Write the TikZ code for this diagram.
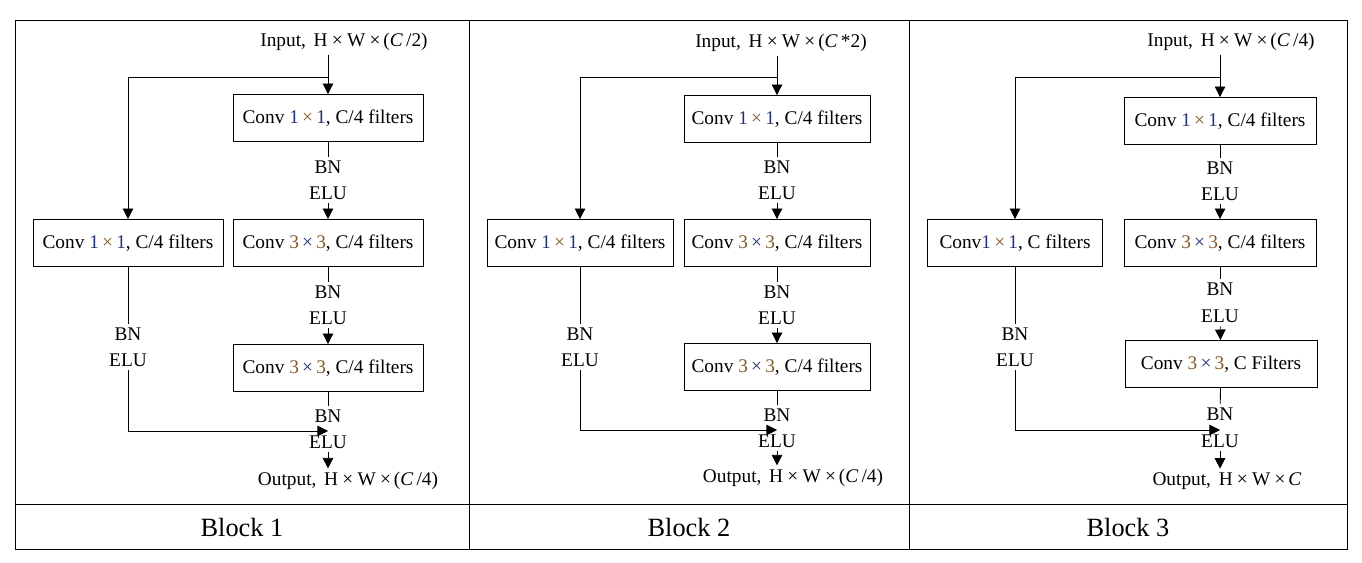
\documentclass[tikz,border=0pt]{standalone}
\usepackage{fontspec}
\setmainfont{Liberation Serif}
\usepackage{xcolor}
\usetikzlibrary{arrows.meta}

\definecolor{kblue}{RGB}{35,50,115}
\definecolor{korange}{RGB}{130,90,40}
\newcommand{\kone}{\textcolor{kblue}{1}\,\textcolor{korange}{×}\,\textcolor{kblue}{1}}
\newcommand{\kthree}{\textcolor{korange}{3}\,\textcolor{kblue}{×}\,\textcolor{korange}{3}}
\newcommand{\shp}[1]{\hspace{0.15em}H\hspace{0.22em}×\hspace{0.22em}W\hspace{0.22em}×\hspace{0.15em}#1}

\tikzset{
    convbox/.style={draw, line width=0.5pt, minimum height=0.94cm, inner sep=2pt},
    lbl/.style={inner sep=2pt},
    wire/.style={line width=0.5pt},
}

\begin{document}
\begin{tikzpicture}[x=0.02cm, y=-0.02cm, >={Triangle[width=6pt,length=6pt]},
    every node/.style={font=\fontsize{11}{13}\selectfont}]
    \useasboundingbox (0,0) rectangle (1362,563);

    % Frame of the table
    \draw[line width=0.5pt] (15,20) rectangle (1347,549);
    \draw[line width=0.5pt] (15,504) -- (1347,504);
    \draw[line width=0.5pt] (469,20) -- (469,549);
    \draw[line width=0.5pt] (909,20) -- (909,549);

    % --- Block 1 ---
    \node[lbl] (in1) at (344,42) {Input, \shp{(\textit{C}\,/2)}};
    \node[convbox, minimum width=3.8cm] (a1) at (328,118) {Conv \kone, C/4 filters};
    \node[lbl] (bna1) at (328,167) {BN};
    \node[lbl] (elua1) at (328,193) {ELU};
    \node[convbox, minimum width=3.8cm] (b1) at (328,243) {Conv \kthree, C/4 filters};
    \node[lbl] (bnb1) at (328,292) {BN};
    \node[lbl] (elub1) at (328,318) {ELU};
    \node[convbox, minimum width=3.8cm] (c1) at (328,368) {Conv \kthree, C/4 filters};
    \node[lbl] (bnc1) at (328,416) {BN};
    \node[lbl] (eluc1) at (328,442) {ELU};
    \node[lbl] (out1) at (348,481) {Output, \shp{(\textit{C}\,/4)}};
    \node[convbox, minimum width=3.8cm] (s1) at (128,243) {Conv \kone, C/4 filters};
    \node[lbl] (bns1) at (128,334) {BN};
    \node[lbl] (elus1) at (128,360) {ELU};
    \coordinate (j1) at (328,77);
    \coordinate (m1) at (328,431);

    \draw[wire, ->] (in1.south -| a1.north) -- (a1);
    \draw[wire, ->] (j1) -| (s1);
    \draw[wire] (a1) -- (bna1);
    \draw[wire, ->] (elua1) -- (b1);
    \draw[wire] (b1) -- (bnb1);
    \draw[wire, ->] (elub1) -- (c1);
    \draw[wire] (c1) -- (bnc1);
    \draw[wire] (s1) -- (bns1);
    \draw[wire, ->] (elus1) |- (m1);
    \draw[wire, ->] (eluc1) -- (eluc1 |- out1.north);

    % --- Block 2 ---
    \node[lbl] (in2) at (781,43) {Input, \shp{(\textit{C}\,*2)}};
    \node[convbox, minimum width=3.72cm] (a2) at (777,119) {Conv \kone, C/4 filters};
    \node[lbl] (bna2) at (777,167) {BN};
    \node[lbl] (elua2) at (777,193) {ELU};
    \node[convbox, minimum width=3.72cm] (b2) at (777,243) {Conv \kthree, C/4 filters};
    \node[lbl] (bnb2) at (777,292) {BN};
    \node[lbl] (elub2) at (777,318) {ELU};
    \node[convbox, minimum width=3.72cm] (c2) at (777,367) {Conv \kthree, C/4 filters};
    \node[lbl] (bnc2) at (777,415) {BN};
    \node[lbl] (eluc2) at (777,441) {ELU};
    \node[lbl] (out2) at (793,478) {Output, \shp{(\textit{C}\,/4)}};
    \node[convbox, minimum width=3.72cm] (s2) at (580,243) {Conv \kone, C/4 filters};
    \node[lbl] (bns2) at (580,334) {BN};
    \node[lbl] (elus2) at (580,360) {ELU};
    \coordinate (j2) at (777,77);
    \coordinate (m2) at (777,430);

    \draw[wire, ->] (in2.south -| a2.north) -- (a2);
    \draw[wire, ->] (j2) -| (s2);
    \draw[wire] (a2) -- (bna2);
    \draw[wire, ->] (elua2) -- (b2);
    \draw[wire] (b2) -- (bnb2);
    \draw[wire, ->] (elub2) -- (c2);
    \draw[wire] (c2) -- (bnc2);
    \draw[wire] (s2) -- (bns2);
    \draw[wire, ->] (elus2) |- (m2);
    \draw[wire, ->] (eluc2) -- (eluc2 |- out2.north);

    % --- Block 3 ---
    \node[lbl] (in3) at (1231,42) {Input, \shp{(\textit{C}\,/4)}};
    \node[convbox, minimum width=3.84cm] (a3) at (1220,121) {Conv \kone, C/4 filters};
    \node[lbl] (bna3) at (1220,168) {BN};
    \node[lbl] (elua3) at (1220,194) {ELU};
    \node[convbox, minimum width=3.84cm] (b3) at (1220,243) {Conv \kthree, C/4 filters};
    \node[lbl] (bnb3) at (1220,289) {BN};
    \node[lbl] (elub3) at (1220,316) {ELU};
    \node[convbox, minimum width=3.84cm] (c3) at (1221,364) {Conv \kthree, C Filters};
    \node[lbl] (bnc3) at (1220,414) {BN};
    \node[lbl] (eluc3) at (1220,441) {ELU};
    \node[lbl] (out3) at (1227,481) {Output, \shp{\textit{C}}};
    \node[convbox, minimum width=3.5cm] (s3) at (1015,243) {Conv\kone, C filters};
    \node[lbl] (bns3) at (1015,334) {BN};
    \node[lbl] (elus3) at (1015,360) {ELU};
    \coordinate (j3) at (1220,77);
    \coordinate (m3) at (1220,430);

    \draw[wire, ->] (in3.south -| a3.north) -- (a3);
    \draw[wire, ->] (j3) -| (s3);
    \draw[wire] (a3) -- (bna3);
    \draw[wire, ->] (elua3) -- (b3);
    \draw[wire] (b3) -- (bnb3);
    \draw[wire, ->] (elub3) -- (c3);
    \draw[wire] (c3) -- (bnc3);
    \draw[wire] (s3) -- (bns3);
    \draw[wire, ->] (elus3) |- (m3);
    \draw[wire, ->] (eluc3) -- (eluc3 |- out3.north);

    % Captions
    \node[font=\fontsize{15}{18}\selectfont] (t1) at (242,527) {Block 1};
    \node[font=\fontsize{15}{18}\selectfont] (t2) at (689,527) {Block 2};
    \node[font=\fontsize{15}{18}\selectfont] (t3) at (1128,527) {Block 3};
\end{tikzpicture}
\end{document}
